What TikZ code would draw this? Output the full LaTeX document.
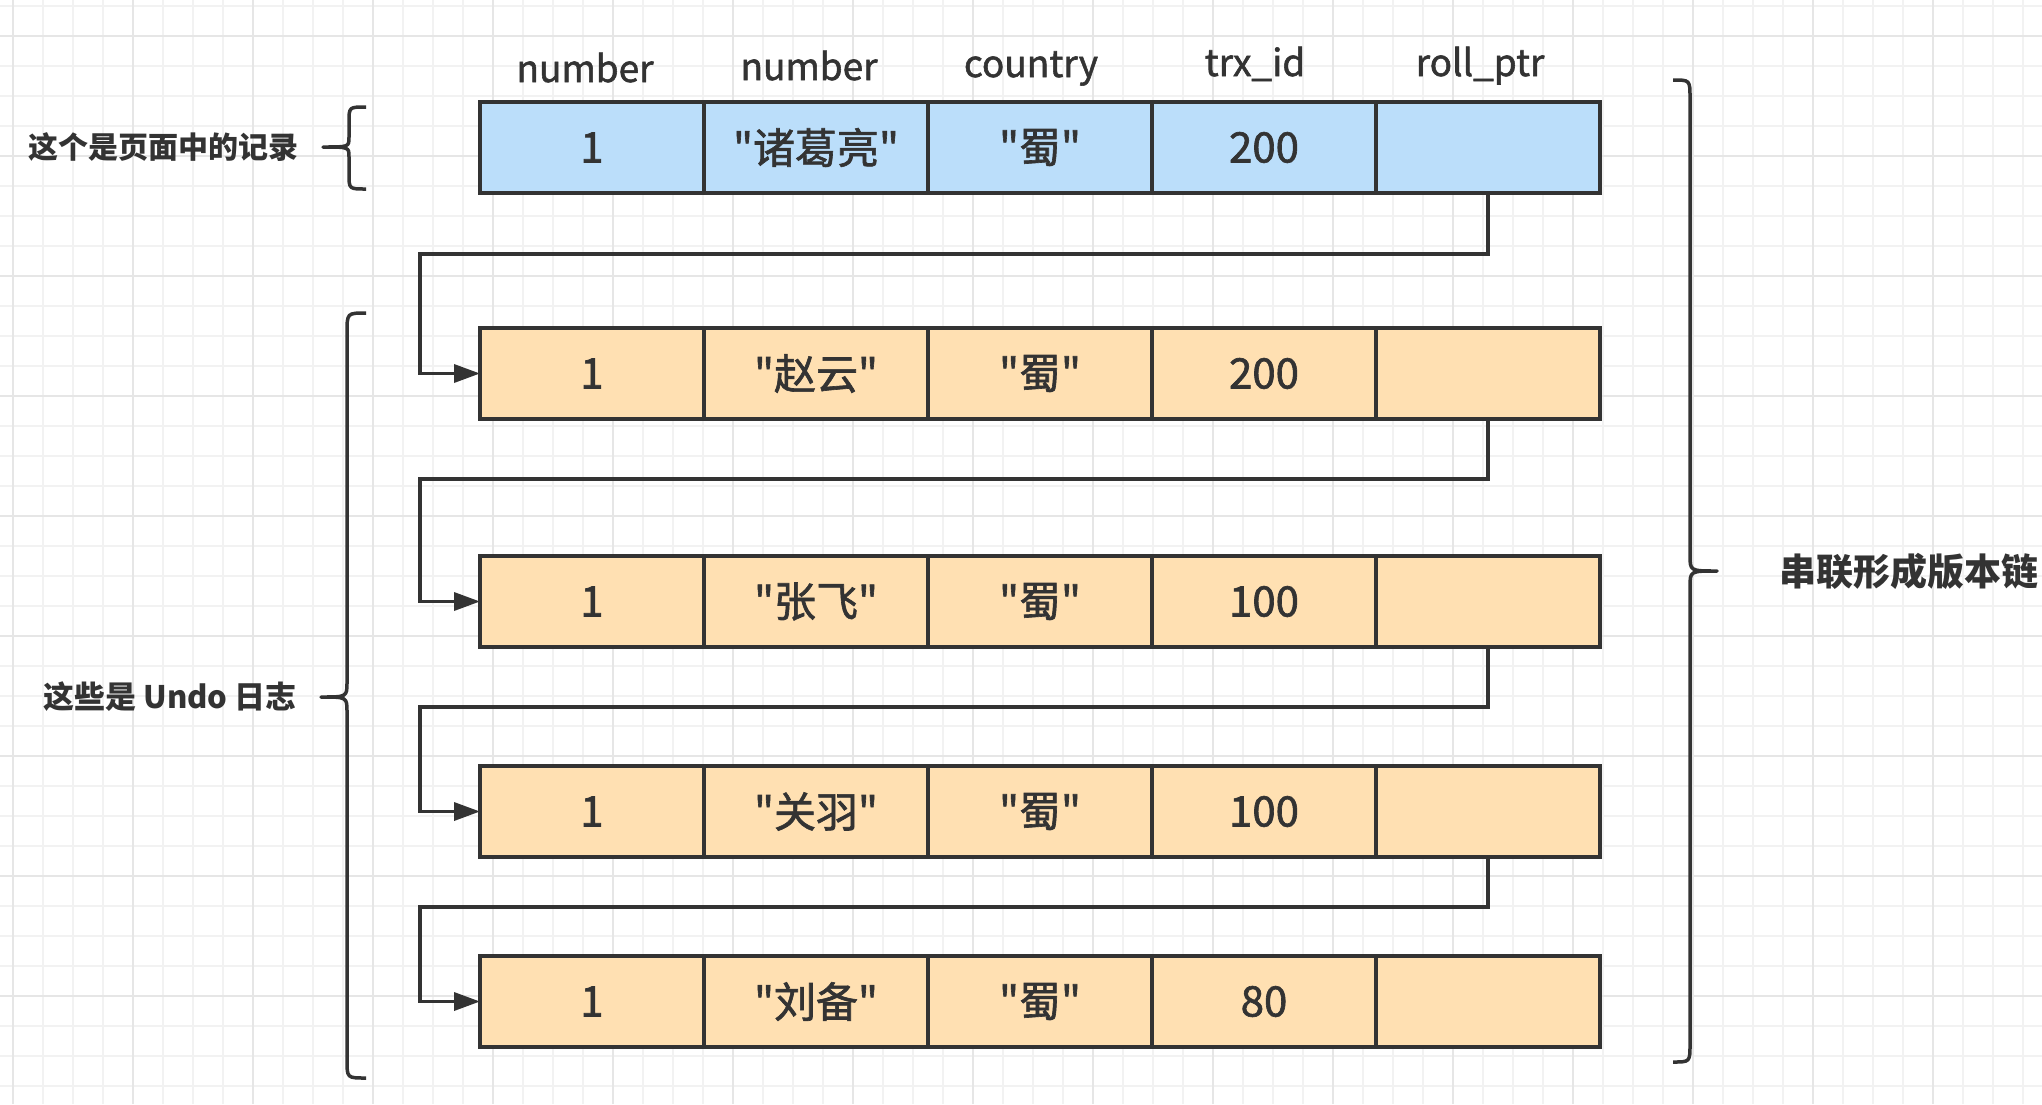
\documentclass[tikz,border=0pt]{standalone}
\usepackage{fontspec}
\setmainfont{Noto Sans CJK SC}[Ligatures=TeXOff]
\newfontfamily\midfont{Noto Sans CJK SC}[Ligatures=TeXOff, FakeBold=1.5]
\usetikzlibrary{arrows.meta,positioning,calc}
\definecolor{inkgray}{HTML}{333333}
\definecolor{pageblue}{HTML}{BBDEFA}
\definecolor{undoorange}{HTML}{FFE0B2}
\definecolor{gridthin}{HTML}{F2F2F2}
\definecolor{gridthick}{HTML}{E6E6E6}
\tikzset{
    every node/.style={text=inkgray, font=\midfont\fontsize{42}{50}\selectfont},
    cell/.style={draw=inkgray, line width=3.5pt, minimum width=224pt,
      minimum height=91pt, inner sep=0pt, outer sep=0pt},
    head/.style={anchor=base, font=\midfont\fontsize{37}{44}\selectfont},
    note/.style={inner sep=0pt, font=\bfseries\fontsize{30}{36}\selectfont},
    ptr/.style={draw=inkgray, line width=3.5pt, -{Triangle[length=26pt,width=18pt]}},
    curly/.style={draw=inkgray, line width=3.5pt, line join=round}
}
\begin{document}
\begin{tikzpicture}[x=1pt, y=-1pt]
  \useasboundingbox (0,0) rectangle (2042,1104);
  % background grid
  \fill[white] (0,0) rectangle (2042,1104);
  \foreach \x in {13,43,...,2042}
    \draw[gridthin, line width=1.2pt] (\x,0) -- (\x,1104);
  \foreach \y in {6,36,...,1104}
    \draw[gridthin, line width=1.2pt] (0,\y) -- (2042,\y);
  \foreach \x in {13,133,...,2042}
    \draw[gridthick, line width=1.6pt] (\x,0) -- (\x,1104);
  \foreach \y in {36,156,...,1104}
    \draw[gridthick, line width=1.6pt] (0,\y) -- (2042,\y);

  % column heads
  \foreach \t/\x/\y [count=\c] in {number/585/82, number/809/80,
      country/1031/77, trx\_id/1255/76, roll\_ptr/1480/76}
    \node[head] (head\c) at (\x,\y) {\t};

  % page record and undo records
  \foreach \r/\ytop/\who/\trx/\tone in {1/102/诸葛亮/200/pageblue,
      2/328/赵云/200/undoorange, 3/556/张飞/100/undoorange,
      4/766/关羽/100/undoorange, 5/956/刘备/80/undoorange} {
    \node[cell, fill=\tone, anchor=north west] (c\r-1) at (480,\ytop) {1};
    \node[cell, fill=\tone, right=0pt of c\r-1] (c\r-2) {"\who"};
    \node[cell, fill=\tone, right=0pt of c\r-2] (c\r-3) {"蜀"};
    \node[cell, fill=\tone, right=0pt of c\r-3] (c\r-4) {\trx};
    \node[cell, fill=\tone, right=0pt of c\r-4] (c\r-5) {};
  }

  % roll_ptr links
  \foreach \r/\yk in {1/254, 2/479, 3/707, 4/907} {
    \coordinate (k\r) at (420,\yk);
    \draw[ptr] let \n1 = {int(\r+1)} in
      (c\r-5.south) |- (k\r) |- (c\n1-1.west);
  }

  % braces
  \coordinate (tip1) at (323,147);
  \draw[curly] (366,107) .. controls (349,107) .. (349,122) -- (349,137)
    .. controls (349,147) .. (tip1) .. controls (349,147) .. (349,157)
    -- (349,174) .. controls (349,189) .. (366,189);
  \node[note, left=24pt of tip1] (pagenote) {这个是页面中的记录};

  \coordinate (tip2) at (321,697);
  \draw[curly] (366,313) .. controls (347,313) .. (347,333) -- (347,682)
    .. controls (347,697) .. (tip2) .. controls (347,697) .. (347,712)
    -- (347,1060) .. controls (347,1078) .. (366,1078);
  \node[note, font=\bfseries\fontsize{31}{37}\selectfont, left=24pt of tip2]
    (undonote) {这些是 Undo 日志};

  \coordinate (tip3) at (1717,571);
  \draw[curly] (1673,80) .. controls (1690,80) .. (1690,98) -- (1690,555)
    .. controls (1690,571) .. (tip3) .. controls (1690,571) .. (1690,587)
    -- (1690,1044) .. controls (1690,1062) .. (1673,1062);
  \node[note, font=\bfseries\fontsize{37}{44}\selectfont, right=62pt of tip3]
    (chainnote) {串联形成版本链};
\end{tikzpicture}
\end{document}
